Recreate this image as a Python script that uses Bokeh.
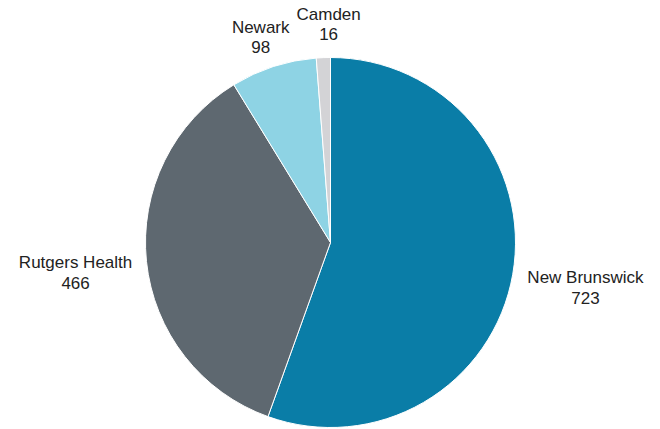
import math
from bokeh.plotting import figure
from bokeh.models import Range1d, ColumnDataSource
from bokeh.core.properties import value
from bokeh.embed import file_html
from bokeh.resources import INLINE

# ---- data ----
campuses = ["New Brunswick", "Rutgers Health", "Newark", "Camden"]
counts = [723, 466, 98, 16]
colors = ["#0A7DA7", "#5E6870", "#8ED3E4", "#D3D3D6"]

# ---- geometry (pixel-like data units, y up) ----
W, H = 660, 429
CX, CY = 330, H - 242
R = 185
FONT_PX = 17
LINE_H = 20
GAP = 15
MIN_SEP = 7
SIDE_DROP = 8    # side labels sit a little lower than the slice's mid-ray
TOP_SHIFT = 4    # top labels sit a little to the right

# approximate Arial advance widths (em)
AW = {"N": .722, "e": .556, "w": .722, " ": .278, "B": .667, "r": .333, "u": .556,
      "n": .556, "s": .5, "i": .222, "c": .5, "k": .5, "R": .722, "t": .278,
      "g": .556, "H": .722, "a": .556, "l": .222, "h": .556, "C": .722, "m": .833,
      "d": .556}


def text_w(s):
    return sum(AW.get(ch, .556) for ch in s) * FONT_PX


total = sum(counts)
starts, ends, mids = [], [], []
acc = 0.0
for c in counts:
    a0 = math.pi / 2 - 2 * math.pi * acc / total
    acc += c
    a1 = math.pi / 2 - 2 * math.pi * acc / total
    starts.append(a0)
    ends.append(a1)
    mids.append((a0 + a1) / 2)

src = ColumnDataSource(dict(start=starts, end=ends, color=colors,
                            x=[CX] * len(counts), y=[CY] * len(counts)))

p = figure(width=W, height=H, output_backend="svg", toolbar_location=None,
           x_range=Range1d(0, W), y_range=Range1d(0, H),
           min_border=0)
p.axis.visible = False
p.grid.visible = False
p.outline_line_color = None
p.background_fill_color = "white"
p.border_fill_color = "white"

p.wedge(x="x", y="y", radius=R, start_angle="start", end_angle="end",
        direction="clock", fill_color="color", line_color="white",
        line_width=1, source=src)

# labels placed just outside each slice
boxes = []
for name, cnt, m in zip(campuses, counts, mids):
    ax = CX + (R + GAP) * math.cos(m)
    ay = CY + (R + GAP) * math.sin(m)
    w = max(text_w(name), text_w(str(cnt)))
    h = LINE_H + FONT_PX
    bx = ax + math.cos(m) * w / 2 + TOP_SHIFT * abs(math.sin(m))
    by = ay + math.sin(m) * h / 2 - SIDE_DROP * abs(math.cos(m))
    boxes.append([bx, by, w, h])

# push apart horizontally overlapping neighbours (same row)
for i in range(len(boxes)):
    for j in range(i + 1, len(boxes)):
        a, b = boxes[i], boxes[j]
        if abs(a[1] - b[1]) < (a[3] + b[3]) / 2:
            need = (a[2] + b[2]) / 2 + MIN_SEP - abs(a[0] - b[0])
            if need > 0:
                s = 1 if a[0] > b[0] else -1
                a[0] += s * need / 2
                b[0] -= s * need / 2

nx = [b[0] for b in boxes]
ny = [b[1] + LINE_H / 2 for b in boxes]
vy = [b[1] - LINE_H / 2 for b in boxes]
names = list(campuses)
vals = [str(c) for c in counts]

for xs, ys, ts in ((nx, ny, names), (nx, vy, vals)):
    p.text(x=xs, y=ys, text=ts, text_font=value("Liberation Sans"),
           text_font_size=f"{FONT_PX}px", text_color="#222222",
           text_align="center", text_baseline="middle")

open("out.html", "w").write(file_html(p, INLINE))
